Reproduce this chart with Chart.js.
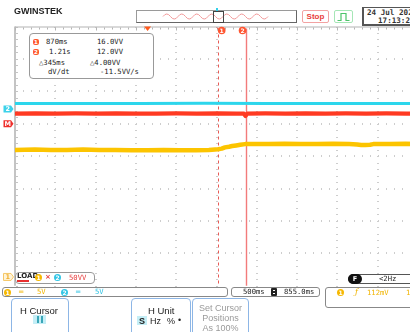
<!DOCTYPE html>
<html>
<head>
<meta charset="utf-8">
<script src="https://cdn.jsdelivr.net/npm/chart.js@4.4.1/dist/chart.umd.min.js"></script>
<style>
  html, body { margin: 0; padding: 0; overflow: hidden; background: #fff; }
  #screen { position: relative; width: 410px; height: 332px; overflow: hidden;
            font-family: "Liberation Sans", Arial, sans-serif; color: #333; }
  #scope { position: absolute; left: 0; top: 0; }
  .abs { position: absolute; white-space: nowrap; }
  .mono { font-family: "DejaVu Sans Mono", monospace; font-size: 7.2px; line-height: 8px; color: #222; }
  .box { position: absolute; box-sizing: border-box; background: #fff; }
  .badge { position: absolute; width: 7px; height: 7px; border-radius: 50%; color: #fff;
           font: bold 6px/7px "DejaVu Sans", sans-serif; text-align: center; }
  .btn { position: absolute; box-sizing: border-box; border: 1px solid #8db6e6; border-radius: 4px;
         background: #fff; height: 44px; top: 298px; }
  .btntxt { position: absolute; font-size: 9.5px; line-height: 10px; color: #222; white-space: nowrap; }
  .grey { color: #9a9a9a; }
</style>
</head>
<body>
<div id="screen">
  <canvas id="scope" width="420" height="332" style="width:420px;height:332px"></canvas>

  <!-- top strip -->
  <div class="abs" style="left:14px;top:6px;font:bold 9px/10px 'Liberation Sans',Arial,sans-serif;color:#222;letter-spacing:0px">GWINSTEK</div>

  <div class="box" style="left:136px;top:10px;width:161px;height:13px;border:1px solid #9a9a9a;border-right-color:#666;border-bottom-color:#666">
    <svg width="159" height="11" style="position:absolute;left:0;top:0">
      <path d="M26 5.5 q3.75 -5 7.5 0 t7.5 0 t7.5 0 t7.5 0 t7.5 0 t7.5 0 t7.5 0 t7.5 0 t7.5 0 t7.5 0 t7.5 0 t7.5 0 t7.5 0 t7.5 0"
            fill="none" stroke="#f39a9a" stroke-width="1"/>
    </svg>
  </div>
  <div class="abs" style="left:213px;top:11px;width:9px;height:10px;border:1px solid #444"></div>
  <div class="abs" style="left:216px;top:8px;width:2px;height:3px;background:#33d0ea"></div>

  <div class="box" style="left:302px;top:10px;width:27px;height:13px;border:1px solid #f2a2a2;border-radius:2px">
    <div class="abs" style="left:0;width:25px;top:1px;text-align:center;font:bold 8px/10px 'Liberation Sans',Arial,sans-serif;color:#e8403c">Stop</div>
  </div>
  <div class="box" style="left:334px;top:10px;width:19px;height:13px;border:1px solid #a6e6b6;border-radius:2px">
    <svg width="17" height="11" style="position:absolute;left:0;top:0">
      <path d="M2.5 9.5 H6 V2.5 H11 V9.5 H14.5" fill="none" stroke="#4cc46a" stroke-width="1.2"/>
    </svg>
  </div>
  <div class="box" style="left:362px;top:7px;width:60px;height:19px;border:1px solid #555;border-left-width:2px;border-bottom-width:2px">
    <div class="abs mono" style="left:3px;top:1px;font-size:7.6px;font-weight:bold;color:#333">24 Jul 202</div>
    <div class="abs mono" style="left:14px;top:9px;font-size:7.6px;font-weight:bold;color:#333">17:13:2</div>
  </div>

  <!-- cursor readout -->
  <div class="box" style="left:29px;top:33px;width:125px;height:46px;border:1px solid #999;border-radius:4px">
    <div class="abs" style="left:3px;top:5px;width:6px;height:6px;border-radius:2px;background:#ff5a30;color:#fff;font:bold 5.5px/6px 'DejaVu Sans',sans-serif;text-align:center">1</div>
    <div class="abs mono" style="left:16px;top:4px">870ms</div>
    <div class="abs mono" style="left:67px;top:4px">16.0VV</div>
    <div class="abs" style="left:3px;top:15px;width:6px;height:6px;border-radius:2px;background:#ff5a30;color:#fff;font:bold 5.5px/6px 'DejaVu Sans',sans-serif;text-align:center">2</div>
    <div class="abs mono" style="left:19px;top:14px">1.21s</div>
    <div class="abs mono" style="left:67px;top:14px">12.0VV</div>
    <div class="abs mono" style="left:9px;top:25px">△345ms</div>
    <div class="abs mono" style="left:60px;top:25px">△4.00VV</div>
    <div class="abs mono" style="left:18px;top:34px">dV/dt</div>
    <div class="abs mono" style="left:70px;top:34px">-11.5VV/s</div>
  </div>

  <!-- math source row -->
  <div class="box" style="left:15px;top:272px;width:80px;height:12px;border:1px solid #999;border-radius:4px"></div>
  <div class="abs" style="left:17px;top:273px;font:bold 7px/7px 'DejaVu Sans',sans-serif;color:#222;background:#fff">LOAD</div>
  <div class="abs" style="left:17px;top:280px;width:12px;height:2px;background:#e83030"></div>
  <div class="badge" style="left:35px;top:274px;background:#f6b800">1</div>
  <div class="abs" style="left:45px;top:273px;font:bold 7px/8px 'DejaVu Sans',sans-serif;color:#e84040">×</div>
  <div class="badge" style="left:54px;top:274px;background:#33c6e6">2</div>
  <div class="abs mono" style="left:69px;top:274px;color:#e84040">50VV</div>

  <!-- channel info bar -->
  <div class="box" style="left:2px;top:287px;width:226px;height:10px;border:1px solid #888;border-radius:3px"></div>
  <div class="badge" style="left:4px;top:288.5px;background:#f6b800">1</div>
  <div class="abs mono" style="left:19px;top:288px;color:#f0b400;font-weight:bold">═</div>
  <div class="abs mono" style="left:37px;top:288px;color:#f0b400">5V</div>
  <div class="badge" style="left:61px;top:288.5px;background:#33c6e6">2</div>
  <div class="abs mono" style="left:76px;top:288px;color:#2ec2e2;font-weight:bold">═</div>
  <div class="abs mono" style="left:95px;top:288px;color:#2ec2e2">5V</div>

  <div class="box" style="left:231px;top:287px;width:89px;height:10px;border:1px solid #888;border-radius:3px"></div>
  <div class="abs mono" style="left:243px;top:288px">500ms</div>
  <div class="abs" style="left:271px;top:288px;width:6px;height:8px;border-radius:1px;background:#222">
    <div class="abs" style="left:2px;top:2px;width:2px;height:1px;background:#fff"></div>
    <div class="abs" style="left:2px;top:5px;width:2px;height:1px;background:#fff"></div>
  </div>
  <div class="abs mono" style="left:284px;top:288px">855.0ms</div>

  <div class="box" style="left:348px;top:274px;width:70px;height:10px;border:1px solid #555;border-radius:5px"></div>
  <div class="abs" style="left:348px;top:274px;width:14px;height:10px;border-radius:5px;background:#111;color:#fff;font:bold 6.5px/10px 'DejaVu Sans',sans-serif;text-align:center">F</div>
  <div class="abs mono" style="left:379px;top:275px">&lt;2Hz</div>

  <div class="box" style="left:325px;top:287px;width:95px;height:21px;border:1px solid #888;border-radius:3px"></div>
  <div class="badge" style="left:337px;top:289px;background:#f6b800">1</div>
  <div class="abs" style="left:355px;top:287px;font:italic 8px/10px 'DejaVu Serif',serif;color:#f0b400">ƒ</div>
  <div class="abs mono" style="left:367px;top:289px;color:#f0b400">112mV</div>
  <div class="abs mono" style="left:406px;top:289px;color:#f0b400">1</div>

  <!-- soft-key menu -->
  <div class="btn" style="left:11px;width:58px">
    <div class="btntxt" style="left:8px;top:7px">H Cursor</div>
    <div class="abs" style="left:21px;top:16px;width:13px;height:9px;background:#c4eef6">
      <div class="abs" style="left:4px;top:1px;width:1.5px;height:7px;background:#3aa6b8"></div>
      <div class="abs" style="left:8px;top:1px;width:1.5px;height:7px;background:#3aa6b8"></div>
    </div>
  </div>
  <div class="btn" style="left:131px;width:60px">
    <div class="btntxt" style="left:16px;top:7px">H Unit</div>
    <div class="abs" style="left:5px;top:17px;width:10px;height:9px;background:#c4eef6"></div>
    <div class="btntxt" style="left:7px;top:17px;font-weight:bold;font-size:9px">S</div>
    <div class="btntxt" style="left:18px;top:17px;font-size:9px">Hz</div>
    <div class="btntxt" style="left:35px;top:17px;font-size:9px">%</div>
    <div class="btntxt" style="left:46px;top:16px;font-size:9px">•</div>
  </div>
  <div class="btn" style="left:192px;width:57px">
    <div class="btntxt grey" style="left:0;width:55px;top:4px;text-align:center;font-size:9px">Set Cursor</div>
    <div class="btntxt grey" style="left:0;width:55px;top:14px;text-align:center;font-size:9px">Positions</div>
    <div class="btntxt grey" style="left:0;width:55px;top:24px;text-align:center;font-size:9px">As 100%</div>
  </div>
</div>

<script>
// ---- acquisition settings ----
const timePerDiv = 500;          // ms per division
const horizPos = 855;            // ms at screen centre
const divX = 10, divY = 8;

const ch1VoltsPerDiv = 5;
const ch2VoltsPerDiv = 5;
const mathPerDiv = 50;           // VV per division
const ch1Ground = 0.27;          // ground positions, divisions from bottom
const ch2Ground = 5.45;
const mathGround = 5.0;

const triggerTime = 0;
const cursorTimes = [870, 1215];

// ---- CH1 (yellow) ----
const ch1Times = [-1645, -1400, -1200, -1000, -800, -600, -400, -200, 0, 200, 400, 600, 760,
                  874, 920, 960, 1010, 1050, 1100, 1150, 1210, 1300, 1500, 1700, 1900, 2100,
                  2300, 2500, 2600, 2650, 2700, 2760, 2800, 3000, 3200, 3355];
const ch1Volts = [19.6, 19.65, 19.6, 19.6, 19.65, 19.6, 19.6, 19.55, 19.55, 19.6, 19.55, 19.55, 19.6,
                  19.7, 19.8, 20.0, 20.1, 20.2, 20.3, 20.4, 20.5, 20.5, 20.5, 20.55, 20.5, 20.5,
                  20.55, 20.5, 20.45, 20.38, 20.38, 20.4, 20.5, 20.5, 20.55, 20.5];

// ---- CH2 (cyan) ----
const ch2Times = [-1645, -900, -100, 700, 1500, 2300, 3000, 3355];
const ch2Volts = [0.88, 0.87, 0.88, 0.89, 0.88, 0.87, 0.88, 0.88];

// ---- MATH CH1 x CH2 (red) ----
const mathTimes = [-1645, -1390, -1140, -890, -640, -390, -140, 110, 360, 610, 870, 1100,
                   1195, 1215, 1235, 1460, 1710, 1960, 2210, 2460, 2710, 2960, 3210, 3355];
const mathVV = [15.6, 15.9, 15.5, 15.8, 15.6, 15.9, 15.5, 15.7, 15.9, 15.6, 16.0, 15.7,
                15.4, 12.0, 15.5, 15.8, 15.6, 15.9, 15.5, 15.8, 15.6, 15.9, 15.6, 15.7];

const toPoints = (times, vals, ground, perDiv) =>
  times.map((t, i) => ({ x: t, y: ground + vals[i] / perDiv }));

const graticule = {
  id: 'graticule',
  beforeDatasetsDraw(chart) {
    const { ctx, chartArea: a, scales: { x, y } } = chart;
    const xMinor = k => Math.round(x.getPixelForValue(x.min + k * timePerDiv / 5));
    const yMinor = k => Math.round(y.getPixelForValue(k / 5));
    ctx.save();
    ctx.fillStyle = '#cdcdcd';
    // dotted vertical division lines
    for (let k = 1; k < divX; k++) {
      const px = xMinor(k * 5);
      for (let j = 0; j <= divY * 5; j++) ctx.fillRect(px - 1, yMinor(j), 2, 1);
    }
    // dotted horizontal division lines
    for (let k = 1; k < divY; k++) {
      const py = yMinor(k * 5);
      for (let j = 0; j <= divX * 5; j++) ctx.fillRect(xMinor(j), py - 1, 1, 2);
    }
    // frame: left edge and top edge with minor ticks
    ctx.fillStyle = '#c4c4c4';
    ctx.fillRect(a.left - 1, a.top, 2, a.bottom - a.top);
    for (let j = 0; j <= divY * 5; j++) ctx.fillRect(a.left + 1, yMinor(j), 2, 1);
    ctx.fillStyle = '#b4b4b4';
    ctx.fillRect(a.left, a.top, a.right - a.left, 1);
    for (let j = 0; j <= divX * 5; j++) ctx.fillRect(xMinor(j), a.top + 1, 1, j % 5 === 0 ? 3 : 2);

    // cursors
    const c1 = Math.round(x.getPixelForValue(cursorTimes[0])) + 0.5;
    const c2 = Math.round(x.getPixelForValue(cursorTimes[1])) + 0.5;
    ctx.lineWidth = 1;
    ctx.strokeStyle = '#e85a55';
    ctx.setLineDash([3, 3]);
    ctx.beginPath(); ctx.moveTo(c1, a.top + 2); ctx.lineTo(c1, a.bottom); ctx.stroke();
    ctx.setLineDash([]);
    ctx.strokeStyle = '#f27b7b';
    ctx.lineWidth = 1.4;
    ctx.beginPath(); ctx.moveTo(c2, a.top + 2); ctx.lineTo(c2, a.bottom); ctx.stroke();
    ctx.restore();
  },
  afterDraw(chart) {
    const { ctx, chartArea: a, scales: { x, y } } = chart;
    ctx.save();
    // trigger position marker
    const tx = x.getPixelForValue(triggerTime);
    ctx.fillStyle = '#ff5a1e';
    ctx.beginPath();
    ctx.moveTo(tx - 3.5, a.top); ctx.lineTo(tx + 3.5, a.top); ctx.lineTo(tx, a.top + 4.5);
    ctx.closePath(); ctx.fill();

    // cursor badges
    const badge = (cx, cy, label) => {
      ctx.fillStyle = '#ff5530';
      ctx.beginPath(); ctx.arc(cx, cy, 3.8, 0, Math.PI * 2); ctx.fill();
      ctx.fillStyle = '#fff';
      ctx.font = 'bold 6px "DejaVu Sans", sans-serif';
      ctx.textAlign = 'center'; ctx.textBaseline = 'middle';
      ctx.fillText(label, cx, cy + 0.5);
    };
    const c1 = x.getPixelForValue(cursorTimes[0]);
    const c2 = x.getPixelForValue(cursorTimes[1]);
    ctx.strokeStyle = '#e85a55'; ctx.lineWidth = 1;
    ctx.beginPath(); ctx.moveTo(c1 - 1, a.top + 1); ctx.lineTo(c1 + 2, a.top + 4); ctx.stroke();
    badge(c1 + 4, a.top + 4, '1');
    badge(c2 - 3, a.top + 4, '2');

    // channel ground tags at the left edge
    const tag = (py, fill, stroke, color, label) => {
      ctx.fillStyle = fill; ctx.strokeStyle = stroke; ctx.lineWidth = 1;
      ctx.beginPath();
      ctx.moveTo(3.5, py - 3.5); ctx.lineTo(11, py - 3.5); ctx.lineTo(13.5, py);
      ctx.lineTo(11, py + 3.5); ctx.lineTo(3.5, py + 3.5); ctx.closePath();
      ctx.fill(); if (stroke) ctx.stroke();
      ctx.fillStyle = color;
      ctx.font = 'bold 6.5px "DejaVu Sans", sans-serif';
      ctx.textAlign = 'center'; ctx.textBaseline = 'middle';
      ctx.fillText(label, 7.8, py + 0.5);
    };
    tag(y.getPixelForValue(ch2Ground), '#3cd2ea', null, '#fff', '2');
    tag(y.getPixelForValue(mathGround), '#ee2e2a', null, '#fff', 'M');
    tag(y.getPixelForValue(ch1Ground), '#fff3d6', '#f5c767', '#f0b030', '1');
    ctx.restore();
  }
};

new Chart(document.getElementById('scope'), {
  type: 'line',
  data: {
    datasets: [
      { label: 'CH1', data: toPoints(ch1Times, ch1Volts, ch1Ground, ch1VoltsPerDiv),
        borderColor: '#fcc400', borderWidth: 4.5 },
      { label: 'CH2', data: toPoints(ch2Times, ch2Volts, ch2Ground, ch2VoltsPerDiv),
        borderColor: '#2cd6ec', borderWidth: 3 },
      { label: 'MATH', data: toPoints(mathTimes, mathVV, mathGround, mathPerDiv),
        borderColor: '#ff3a22', borderWidth: 4.2 }
    ]
  },
  options: {
    responsive: false,
    animation: false,
    events: [],
    layout: { padding: { left: 15, top: 26.5, right: 2, bottom: 46.3 } },
    elements: { point: { radius: 0 }, line: { tension: 0, borderJoinStyle: 'round' } },
    plugins: { legend: { display: false }, tooltip: { enabled: false } },
    scales: {
      x: { type: 'linear', display: false,
           min: horizPos - divX / 2 * timePerDiv, max: horizPos + divX / 2 * timePerDiv },
      y: { type: 'linear', display: false, min: 0, max: divY }
    }
  },
  plugins: [graticule]
});
</script>
</body>
</html>
